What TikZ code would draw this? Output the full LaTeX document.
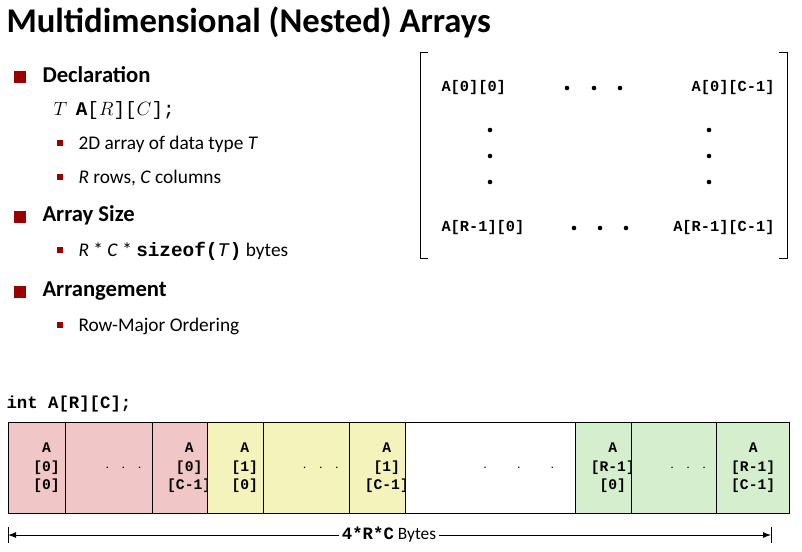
\documentclass[tikz,border=0pt]{standalone}
\usepackage{fontspec}
\setmainfont{Carlito}
\setmonofont{Liberation Mono}
\usetikzlibrary{arrows.meta,calc}
\definecolor{bulletred}{RGB}{153,0,0}
\definecolor{cellred}{RGB}{240,198,198}
\definecolor{cellyellow}{RGB}{245,243,188}
\definecolor{cellgreen}{RGB}{213,238,206}
\tikzset{every picture/.style={line width=0.75pt}}
\tikzset{
  bigbullet/.style={fill=bulletred,draw=none,minimum size=9pt,inner sep=0pt},
  smallbullet/.style={fill=bulletred,draw=none,minimum size=5pt,inner sep=0pt},
  head/.style={anchor=west,inner sep=0.75pt,font=\fontsize{17}{20}\selectfont\bfseries},
  sub/.style={anchor=west,inner sep=0.75pt,font=\fontsize{14.5}{17}\selectfont},
  mat/.style={inner sep=0.75pt,font=\fontsize{11.5}{13}\selectfont\ttfamily\bfseries},
  cell/.style={draw,minimum height=68pt,inner sep=0pt,align=center,font=\fontsize{11}{14}\selectfont\ttfamily\bfseries},
}
\newcommand{\vdotsc}[1]{\fill (#1) circle (2.3) ++(0,-26) circle (2.3) ++(0,-26) circle (2.3);}
\begin{document}
\begin{tikzpicture}[x=0.75pt,y=0.75pt,yscale=-1,xscale=1]
\useasboundingbox (0,0) rectangle (802,551);

% title
\node (title) [anchor=west,inner sep=0pt,font=\fontsize{26}{30}\selectfont\bfseries] at (6,22) {Multidimensional (Nested) Arrays};

% bullets
\node (b1) [bigbullet] at (20,77) {};
\node (decl) [head] at (41,75) {Declaration};
\node (tdecl) [sub] at (52,110) {$T$\ \ \texttt{\textbf{A}}\texttt{[}$R$\texttt{][}$C$\texttt{];}};
\node (s1) [smallbullet] at (60,143) {};
\node (s1t) [sub] at (77,144) {2D array of data type \textit{T}};
\node (s2) [smallbullet] at (60,177) {};
\node (s2t) [sub] at (77,178) {\textit{R} rows, \textit{C} columns};
\node (b2) [bigbullet] at (20,217) {};
\node (size) [head] at (41,215) {Array Size};
\node (s3) [smallbullet] at (60,250) {};
\node (s3t) [sub] at (77,251) {\textit{R} * \textit{C} * \texttt{\textbf{sizeof(}\textit{T}\textbf{)}} bytes};
\node (b3) [bigbullet] at (20,292) {};
\node (arr) [head] at (41,291) {Arrangement};
\node (s4) [smallbullet] at (60,325) {};
\node (s4t) [sub] at (77,326) {Row-Major Ordering};

% matrix
\draw (428,52) -- (420,52) -- (420,258) -- (428,258);
\draw (779,52) -- (787,52) -- (787,258) -- (779,258);
\node (m00) [mat,anchor=west] at (440,88) {A[0][0]};
\node (m0c) [mat,anchor=east] at (776,88) {A[0][C-1]};
\node (mr0) [mat,anchor=west] at (440,228) {A[R-1][0]};
\node (mrc) [mat,anchor=east] at (776,228) {A[R-1][C-1]};
\fill (567,88) circle (2.3) (594,88) circle (2.3) (620,88) circle (2.3);
\fill (574,228) circle (2.3) (600,228) circle (2.3) (626,228) circle (2.3);
\vdotsc{490,182}
\vdotsc{709,182}

% array
\node (decl2) [anchor=west,inner sep=0pt,font=\fontsize{13}{15}\selectfont\ttfamily\bfseries] at (6,404) {int A[R][C];};
\node (c1) [cell,fill=cellred,minimum width=57pt,anchor=north west] at (8,422) {A\\{}[0]\\{}[0]};
\node (c2) [cell,fill=cellred,minimum width=87pt,anchor=north west] at (65,422) {$\cdot\ \cdot\ \cdot$};
\node (c3) [cell,fill=cellred,minimum width=55pt,anchor=north west] at (152,422) {A\\{}[0]\\{}[C-1]};
\node (c4) [cell,fill=cellyellow,minimum width=56pt,anchor=north west] at (207,422) {A\\{}[1]\\{}[0]};
\node (c5) [cell,fill=cellyellow,minimum width=86pt,anchor=north west] at (263,422) {$\cdot\ \cdot\ \cdot$};
\node (c6) [cell,fill=cellyellow,minimum width=56pt,anchor=north west] at (349,422) {A\\{}[1]\\{}[C-1]};
\node (c7) [cell,fill=white,minimum width=170pt,anchor=north west] at (405,422) {$\cdot\ \ \ \cdot\ \ \ \cdot$};
\node (c8) [cell,fill=cellgreen,minimum width=56pt,anchor=north west] at (575,422) {A\\{}[R-1]\\{}[0]};
\node (c9) [cell,fill=cellgreen,minimum width=85pt,anchor=north west] at (631,422) {$\cdot\ \cdot\ \cdot$};
\node (c10) [cell,fill=cellgreen,minimum width=55pt,anchor=north west] at (716,422) {A\\{}[R-1]\\{}[C-1]};

% size arrow
\coordinate (la) at (8,535);
\coordinate (ra) at (771,535);
\draw ($(la)+(0,-8)$) -- ($(la)+(0,8)$);
\draw ($(ra)+(0,-8)$) -- ($(ra)+(0,8)$);
\node (bytes) [fill=white,inner sep=2pt,font=\fontsize{13}{15}\selectfont] at (389,535) {\texttt{\textbf{4*R*C}} Bytes};
\draw [-{Latex[length=6pt]}] (bytes) -- (ra);
\draw [-{Latex[length=6pt]}] (bytes) -- (la);
\end{tikzpicture}
\end{document}
